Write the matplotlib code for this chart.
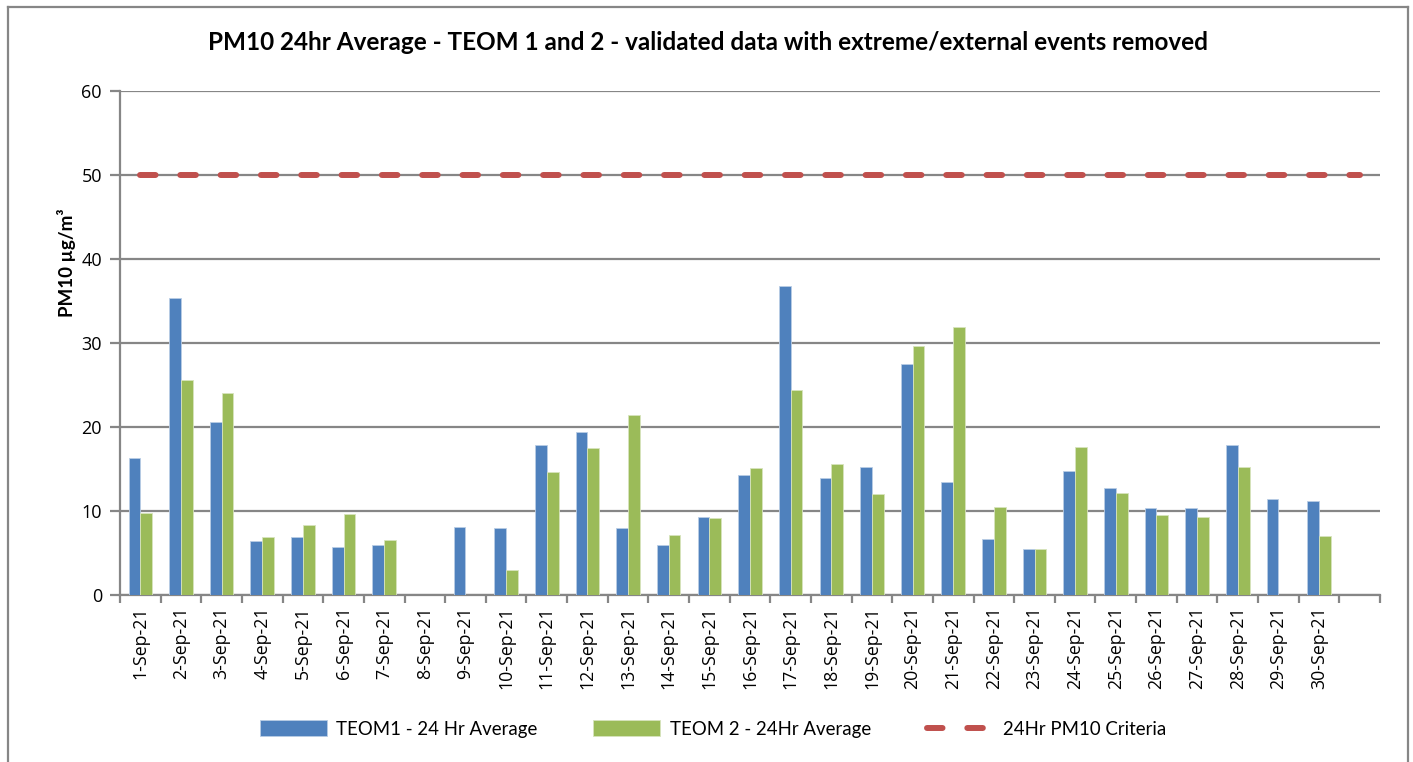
import numpy as np
import matplotlib
matplotlib.use("Agg")
import matplotlib.pyplot as plt
from matplotlib.lines import Line2D

dates = [f"{d}-Sep-21" for d in range(1, 31)]
teom1 = [16.3, 35.3, 20.6, 6.4, 6.9, 5.7, 6.0, np.nan, 8.1, 8.0,
         17.8, 19.4, 8.0, 5.9, 9.3, 14.3, 36.8, 13.9, 15.2, 27.5,
         13.4, 6.7, 5.5, 14.8, 12.7, 10.4, 10.3, 17.8, 11.4, 11.2]
teom2 = [9.8, 25.6, 24.1, 6.9, 8.3, 9.6, 6.6, np.nan, np.nan, 3.0,
         14.6, 17.5, 21.4, 7.2, 9.2, 15.1, 24.4, 15.6, 12.0, 29.7,
         31.9, 10.5, 5.5, 17.6, 12.1, 9.5, 9.3, 15.2, np.nan, 7.0]
n_slots = 31
criteria = [50] * n_slots
yticks = [0, 10, 20, 30, 40, 50, 60]

BLUE = "#4F81BD"
GREEN = "#9BBB59"
RED = "#C0504D"
GRID = "#868686"

plt.rcParams['font.family'] = ['Open Sans', 'DejaVu Sans']

W, H = 1413, 762
fig = plt.figure(figsize=(W / 100, H / 100), dpi=100)
ax = fig.add_axes([120 / W, 1 - 595 / H, (1380 - 120) / W, (595 - 91) / H])

x = np.arange(len(dates))
bw = 0.29
b1 = ax.bar(x - bw / 2, teom1, width=bw, color=BLUE, edgecolor="#B9CDE5", linewidth=0.6,
            label="TEOM1 - 24 Hr Average", zorder=3)
b2 = ax.bar(x + bw / 2, teom2, width=bw, color=GREEN, edgecolor="#D7E4BD", linewidth=0.6,
            label="TEOM 2 - 24Hr Average", zorder=3)
ln, = ax.plot(np.arange(n_slots), criteria, color=RED, lw=4.3, dashes=(2.6, 4.15),
              dash_capstyle="round", solid_capstyle="round", zorder=4,
              label="24Hr PM10 Criteria")

ax.set_xlim(-0.5, n_slots - 0.5)
ax.set_ylim(0, 60)
ax.set_yticks(yticks)
ax.set_yticklabels([str(v) for v in yticks], fontsize=13)
ax.yaxis.grid(True, color=GRID, lw=1.6, zorder=0)
ax.set_axisbelow(True)

ax.set_xticks(x)
ax.set_xticklabels(dates, rotation=90, fontsize=12.8)
ax.tick_params(axis="x", which="major", length=0, pad=8)
ax.set_xticks(np.arange(-0.5, n_slots), minor=True)
ax.tick_params(axis="x", which="minor", length=6, width=1.6, color=GRID)
ax.tick_params(axis="y", length=7, width=1.6, color=GRID, pad=6)

for s in ["top", "right"]:
    ax.spines[s].set_visible(False)
for s in ["left", "bottom"]:
    ax.spines[s].set_color(GRID)
    ax.spines[s].set_linewidth(1.6)

fig.text(0.5 * (195 + 1220) / W, 1 - 43 / H,
         "PM10 24hr Average - TEOM 1 and 2 - validated data with extreme/external events removed",
         ha="center", va="center", fontsize=17.5, fontweight="bold", family=["Lato", "DejaVu Sans"])
fig.text(66 / W, 1 - 263 / H, "PM10 µg/m³", rotation=90, ha="center", va="center",
         fontsize=13.5, fontweight="bold", family=["Lato", "DejaVu Sans"])

# outer chart border
fig.add_artist(Line2D([8 / W, 8 / W], [0, 1 - 7 / H], transform=fig.transFigure, color=GRID, lw=1.6))
fig.add_artist(Line2D([8 / W, 1408 / W], [1 - 7 / H, 1 - 7 / H], transform=fig.transFigure, color=GRID, lw=1.6))
fig.add_artist(Line2D([1408 / W, 1408 / W], [0, 1 - 7 / H], transform=fig.transFigure, color=GRID, lw=1.6))

leg = fig.legend([b1, b2, ln], [b1.get_label(), b2.get_label(), ln.get_label()],
                 loc="center", bbox_to_anchor=(713 / W, 1 - 729 / H), ncol=3,
                 frameon=False, handlelength=3.6, handleheight=0.9,
                 columnspacing=3.0, handletextpad=0.5,
                 prop={"family": ["Lato", "DejaVu Sans"], "size": 13.4})

fig.savefig("out.png", dpi=100)
